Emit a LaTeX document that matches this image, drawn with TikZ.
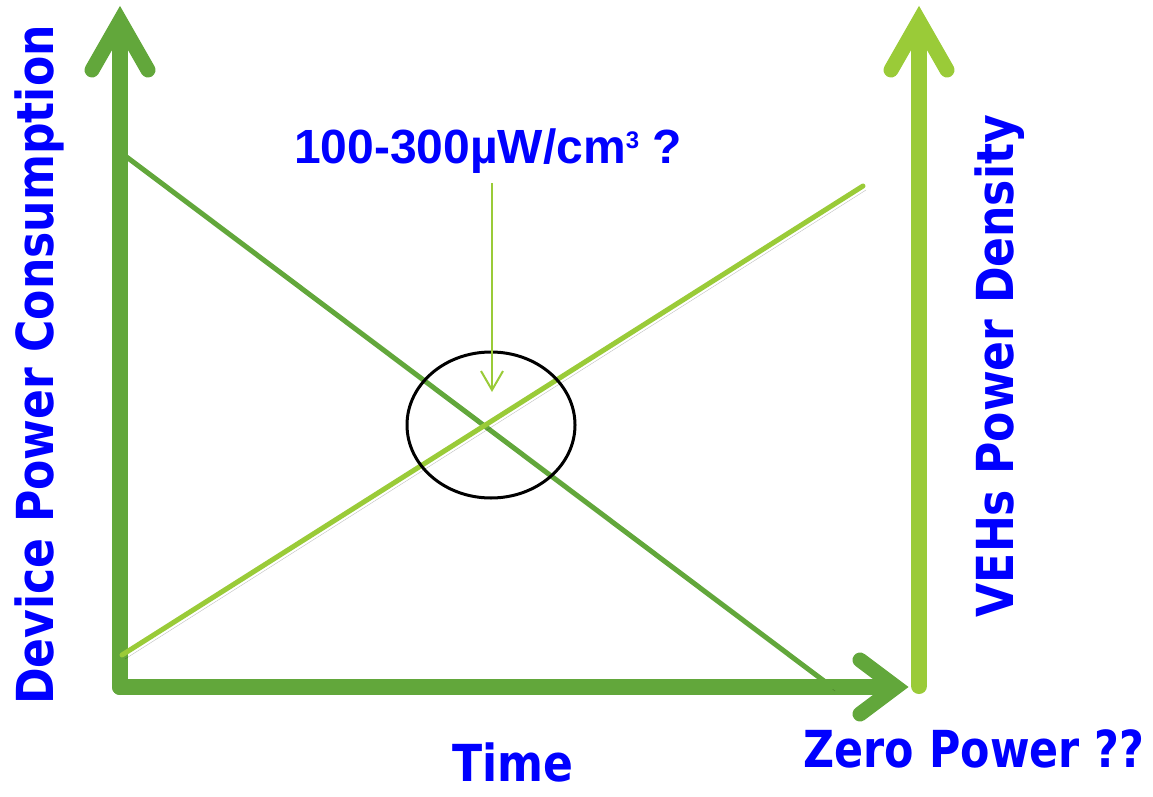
\documentclass[tikz,border=0pt]{standalone}
\usepackage{fontspec}
\setmainfont{DejaVu Sans}
\newfontfamily\arialfont{Liberation Sans}
\usetikzlibrary{arrows.meta,shapes.geometric}
\definecolor{dgreen}{HTML}{62A73B}
\definecolor{lgreen}{HTML}{9ACB38}
\definecolor{tblue}{HTML}{0000FF}
\begin{document}
\begin{tikzpicture}[x=1pt,y=-1pt,
  shad/.style={preaction={draw=black,draw opacity=0.25,transform canvas={shift={(3pt,-4pt)}}}},
  axisbar/.style={shad,line width=16pt,line cap=round,line join=round},
  chevron/.style={shad,line width=15pt,line cap=round,line join=miter},
  trend/.style={shad,line width=5pt,line cap=round},
  biglabel/.style={text=tblue,font=\bfseries\fontsize{51}{51}\selectfont,inner sep=0pt},
]
\useasboundingbox (0,0) rectangle (1153,797);
% key points
\coordinate (O) at (120,687);
\coordinate (Ytop) at (120,30);
\coordinate (Yl) at (92,70);
\coordinate (Ytip) at (120,21);
\coordinate (Yr) at (148,70);
\coordinate (Xend) at (892,687);
\coordinate (Xu) at (860,660);
\coordinate (Xtip) at (896,687);
\coordinate (Xd) at (860,714);
\coordinate (R0) at (919,686);
\coordinate (Rtop) at (919,30);
\coordinate (Rl) at (891,70);
\coordinate (Rtip) at (919,21);
\coordinate (Rr) at (947,70);
\coordinate (D0) at (124,155);
\coordinate (D1) at (832,687);
\coordinate (L0) at (122,655);
\coordinate (L1) at (863,186);
% left axis
\draw[axisbar,dgreen] (O) -- (Ytop);
\draw[chevron,dgreen] (Yl) -- (Ytip) -- (Yr);
% bottom axis
\draw[axisbar,dgreen] (O) -- (Xend);
\draw[chevron,dgreen] (Xu) -- (Xtip) -- (Xd);
% right axis
\draw[axisbar,lgreen] (R0) -- (Rtop);
\draw[chevron,lgreen] (Rl) -- (Rtip) -- (Rr);
% trend lines
\draw[trend,dgreen] (D0) -- (D1);
\draw[trend,lgreen] (L0) -- (L1);
% circle
\node (ring) [ellipse,draw=black,line width=3pt,minimum width=168pt,minimum height=146pt,inner sep=0pt] at (491,425) {};
% label and pointer
\node (lbl) [anchor=base,text=tblue,inner sep=0pt,font=\arialfont\bfseries\fontsize{48}{48}\selectfont] at (488,163)
  {100-300µW/cm\raisebox{14pt}{\fontsize{24}{24}\selectfont 3} ?};
\coordinate (pstart) at (492,183);
\coordinate (pend) at (492,392);
\draw[lgreen,line width=2pt,-{Straight Barb[length=19pt,width=22pt,line width=2pt]}] (pstart) -- (pend);
% axis labels
\node (time) [biglabel,anchor=base] at (513,781) {\scalebox{0.865}[1]{Time}};
\node (zero) [biglabel,anchor=base] at (974,767) {\scalebox{0.84}[1]{Zero Power ??}};
\node (dpc) [biglabel,anchor=base,rotate=90] at (53,365) {\scalebox{0.865}[1]{Device Power Consumption}};
\node (veh) [biglabel,anchor=base,rotate=90] at (1013,366) {\scalebox{0.865}[1]{VEHs Power Density}};
\end{tikzpicture}
\end{document}
